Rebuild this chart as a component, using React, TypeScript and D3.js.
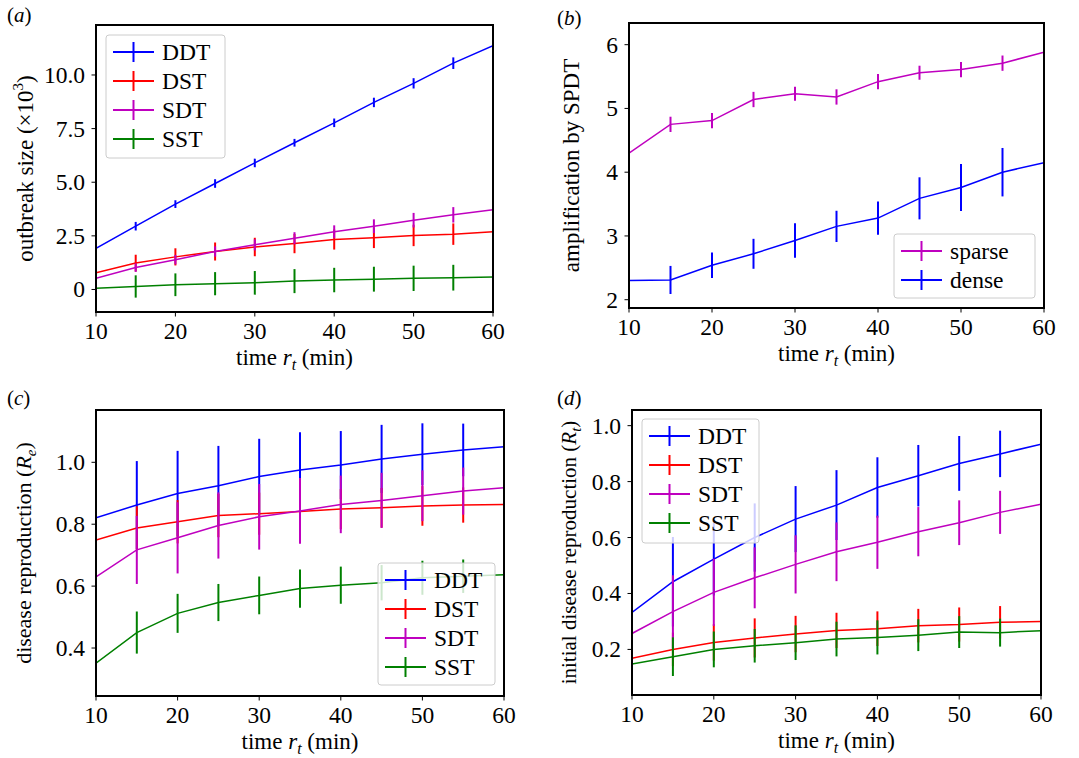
import React from "react"
import * as d3 from "d3"

const times = [10, 15, 20, 25, 30, 35, 40, 45, 50, 55, 60]
const xTicks = [10, 20, 30, 40, 50, 60]

// (a) outbreak size (x10^3)
const aDDT = [1.92, 2.95, 3.98, 4.94, 5.9, 6.84, 7.77, 8.72, 9.61, 10.55, 11.37]
const aDDTerr = [0, 0.2, 0.18, 0.2, 0.2, 0.18, 0.2, 0.22, 0.24, 0.27, 0]
const aDST = [0.78, 1.23, 1.52, 1.77, 1.98, 2.14, 2.33, 2.41, 2.52, 2.58, 2.69]
const aDSTerr = [0, 0.39, 0.4, 0.42, 0.43, 0.45, 0.47, 0.48, 0.5, 0.5, 0]
const aSDT = [0.52, 1.02, 1.39, 1.77, 2.08, 2.39, 2.69, 2.95, 3.23, 3.48, 3.72]
const aSDTerr = [0, 0.2, 0.22, 0.24, 0.26, 0.28, 0.3, 0.32, 0.34, 0.36, 0]
const aSST = [0.06, 0.14, 0.22, 0.27, 0.31, 0.39, 0.44, 0.48, 0.52, 0.55, 0.58]
const aSSTerr = [0, 0.52, 0.53, 0.54, 0.55, 0.56, 0.57, 0.58, 0.59, 0.6, 0]
const aTicks = [0, 2.5, 5, 7.5, 10]
const aTickLabels = ["0", "2.5", "5.0", "7.5", "10.0"]

// (b) amplification by SPDT
const bSparse = [4.3, 4.75, 4.81, 5.14, 5.23, 5.18, 5.42, 5.56, 5.61, 5.71, 5.88]
const bSparseErr = [0, 0.12, 0.12, 0.12, 0.11, 0.12, 0.12, 0.11, 0.12, 0.12, 0]
const bDense = [2.3, 2.31, 2.54, 2.72, 2.93, 3.15, 3.28, 3.59, 3.76, 4.0, 4.15]
const bDenseErr = [0, 0.22, 0.2, 0.235, 0.27, 0.245, 0.26, 0.33, 0.37, 0.38, 0]
const bTicks = [2, 3, 4, 5, 6]
const bTickLabels = ["2", "3", "4", "5", "6"]

// (c) disease reproduction Re
const cDDT = [0.821, 0.862, 0.899, 0.924, 0.954, 0.975, 0.991, 1.011, 1.026, 1.04, 1.05]
const cDDTerr = [0, 0.142, 0.138, 0.129, 0.122, 0.122, 0.11, 0.11, 0.1, 0.085, 0]
const cDST = [0.749, 0.788, 0.808, 0.828, 0.834, 0.841, 0.849, 0.853, 0.859, 0.862, 0.864]
const cDSTerr = [0, 0.07, 0.07, 0.07, 0.068, 0.066, 0.065, 0.064, 0.064, 0.057, 0]
const cSDT = [0.63, 0.717, 0.756, 0.796, 0.824, 0.843, 0.864, 0.877, 0.892, 0.907, 0.918]
const cSDTerr = [0, 0.11, 0.115, 0.107, 0.106, 0.106, 0.093, 0.089, 0.082, 0.076, 0]
const cSST = [0.351, 0.45, 0.512, 0.547, 0.57, 0.592, 0.603, 0.611, 0.627, 0.632, 0.637]
const cSSTerr = [0, 0.068, 0.063, 0.06, 0.061, 0.062, 0.06, 0.057, 0.055, 0.054, 0]
const cTicks = [0.4, 0.6, 0.8, 1.0]
const cTickLabels = ["0.4", "0.6", "0.8", "1.0"]

// (d) initial disease reproduction Rt
const dDDT = [0.332, 0.442, 0.523, 0.6, 0.666, 0.716, 0.779, 0.821, 0.865, 0.899, 0.934]
const dDDTerr = [0, 0.16, 0.13, 0.122, 0.118, 0.125, 0.108, 0.11, 0.098, 0.083, 0]
const dDST = [0.168, 0.2, 0.225, 0.241, 0.255, 0.268, 0.274, 0.285, 0.289, 0.297, 0.3]
const dDSTerr = [0, 0.06, 0.065, 0.07, 0.065, 0.063, 0.062, 0.06, 0.061, 0.058, 0]
const dSDT = [0.257, 0.335, 0.404, 0.456, 0.504, 0.549, 0.583, 0.621, 0.653, 0.69, 0.719]
const dSDTerr = [0, 0.13, 0.12, 0.109, 0.104, 0.105, 0.095, 0.088, 0.08, 0.077, 0]
const dSST = [0.148, 0.174, 0.2, 0.213, 0.224, 0.237, 0.243, 0.251, 0.262, 0.26, 0.267]
const dSSTerr = [0, 0.069, 0.064, 0.06, 0.062, 0.062, 0.061, 0.057, 0.057, 0.05, 0]
const dTicks = [0.2, 0.4, 0.6, 0.8, 1.0]
const dTickLabels = ["0.2", "0.4", "0.6", "0.8", "1.0"]

const BLUE = "#0000ff"
const RED = "#ff0000"
const MAGENTA = "#bf00bf"
const GREEN = "#008000"
const FONT = "Liberation Serif"
const FS = 23.5

type Series = { name: string, color: string, values: number[], err: number[] }

type PanelProps = {
    left: number, top: number, width: number, height: number,
    yDomain: [number, number], yTicks: number[], yTickLabels: string[],
    series: Series[], legendOrder: Series[],
    legend: { x: number, y: number, w: number, h: number },
    letter: string, letterPos: [number, number],
    yLabel: React.ReactNode, yLabelX: number, yLabelSize: number,
}

const Panel = (p: PanelProps) => {
    const x = d3.scaleLinear().domain([10, 60]).range([p.left, p.left + p.width])
    const y = d3.scaleLinear().domain(p.yDomain).range([p.top + p.height, p.top])
    const line = d3.line<number>().x((d, i) => x(times[i])).y(d => y(d))
    const bottom = p.top + p.height

    return (
        <g>
            <defs>
                <clipPath id={"clip" + p.letter}>
                    <rect x={p.left} y={p.top} width={p.width} height={p.height} />
                </clipPath>
            </defs>
            <g clipPath={`url(#clip${p.letter})`}>
                {p.series.map(s => (
                    <g key={s.name}>
                        <path d={line(s.values) || ""} fill="none" stroke={s.color} strokeWidth={1.5} />
                        {s.values.map((v, i) => s.err[i] > 0 ? (
                            <line key={i} x1={x(times[i])} x2={x(times[i])}
                                y1={y(v - s.err[i])} y2={y(v + s.err[i])}
                                stroke={s.color} strokeWidth={2} />
                        ) : null)}
                    </g>
                ))}
            </g>
            {/* legend */}
            <g>
                <rect x={p.legend.x} y={p.legend.y} width={p.legend.w} height={p.legend.h} rx={3}
                    fill="white" fillOpacity={0.8} stroke="#cccccc" strokeWidth={1} />
                {p.legendOrder.map((s, i) => {
                    const cy = p.legend.y + 17 + i * 29
                    const lx = p.legend.x + 7
                    return (
                        <g key={s.name}>
                            <line x1={lx} x2={lx + 41} y1={cy} y2={cy} stroke={s.color} strokeWidth={2} />
                            <line x1={lx + 20.5} x2={lx + 20.5} y1={cy - 10} y2={cy + 10} stroke={s.color} strokeWidth={2} />
                            <text x={p.legend.x + 56} y={cy + 8} fontSize={FS} fontFamily={FONT}>{s.name}</text>
                        </g>
                    )
                })}
            </g>
            {/* axes frame */}
            <rect x={p.left} y={p.top} width={p.width} height={p.height} fill="none" stroke="black" strokeWidth={2} />
            {xTicks.map(t => (
                <g key={t}>
                    <line x1={x(t)} x2={x(t)} y1={bottom + 1} y2={bottom + 4.5} stroke="black" strokeWidth={1} />
                    <text x={x(t)} y={bottom + 27} textAnchor="middle" fontSize={FS} fontFamily={FONT}>{t}</text>
                </g>
            ))}
            {p.yTicks.map((t, i) => (
                <g key={t}>
                    <line x1={p.left - 1} x2={p.left - 4.5} y1={y(t)} y2={y(t)} stroke="black" strokeWidth={1} />
                    <text x={p.left - 11} y={y(t) + 8} textAnchor="end" fontSize={FS} fontFamily={FONT}>{p.yTickLabels[i]}</text>
                </g>
            ))}
            <text x={p.left + p.width / 2} y={bottom + 53} textAnchor="middle" fontSize={23} fontFamily={FONT}>
                time <tspan fontStyle="italic">r</tspan><tspan fontStyle="italic" fontSize={16} dy={5}>t</tspan><tspan dy={-5}> (min)</tspan>
            </text>
            <text transform={`translate(${p.yLabelX},${p.top + p.height / 2}) rotate(-90)`} textAnchor="middle"
                fontSize={p.yLabelSize} fontFamily={FONT}>{p.yLabel}</text>
            <text x={p.letterPos[0]} y={p.letterPos[1]} fontSize={21} fontFamily={FONT}>
                (<tspan fontStyle="italic">{p.letter}</tspan>)
            </text>
        </g>
    )
}

const App = () => {
    const aSeries: Series[] = [
        { name: "DDT", color: BLUE, values: aDDT, err: aDDTerr },
        { name: "DST", color: RED, values: aDST, err: aDSTerr },
        { name: "SDT", color: MAGENTA, values: aSDT, err: aSDTerr },
        { name: "SST", color: GREEN, values: aSST, err: aSSTerr },
    ]
    const bSeries: Series[] = [
        { name: "sparse", color: MAGENTA, values: bSparse, err: bSparseErr },
        { name: "dense", color: BLUE, values: bDense, err: bDenseErr },
    ]
    const cSeries: Series[] = [
        { name: "DDT", color: BLUE, values: cDDT, err: cDDTerr },
        { name: "DST", color: RED, values: cDST, err: cDSTerr },
        { name: "SDT", color: MAGENTA, values: cSDT, err: cSDTerr },
        { name: "SST", color: GREEN, values: cSST, err: cSSTerr },
    ]
    const dSeries: Series[] = [
        { name: "DDT", color: BLUE, values: dDDT, err: dDDTerr },
        { name: "DST", color: RED, values: dDST, err: dDSTerr },
        { name: "SDT", color: MAGENTA, values: dSDT, err: dSDTerr },
        { name: "SST", color: GREEN, values: dSST, err: dSSTerr },
    ]

    return (
        <svg width={1079} height={758} style={{ position: "absolute", left: 0, top: 0, background: "white" }}>
            <Panel left={96} top={25} width={397} height={287} yDomain={[-1.05, 12.33]}
                yTicks={aTicks} yTickLabels={aTickLabels} series={aSeries} legendOrder={aSeries}
                legend={{ x: 106, y: 35, w: 119, h: 123 }} letter="a" letterPos={[7, 22]}
                yLabelX={33} yLabelSize={23}
                yLabel={<>outbreak size (×10<tspan fontSize={15} dy={-10}>3</tspan><tspan dy={10}>)</tspan></>} />
            <Panel left={629} top={23} width={415} height={285} yDomain={[1.87, 6.34]}
                yTicks={bTicks} yTickLabels={bTickLabels} series={bSeries} legendOrder={bSeries}
                legend={{ x: 894, y: 234, w: 141, h: 64 }} letter="b" letterPos={[557, 25]}
                yLabelX={579} yLabelSize={23} yLabel={<>amplification by SPDT</>} />
            <Panel left={96} top={410} width={408} height={286} yDomain={[0.245, 1.169]}
                yTicks={cTicks} yTickLabels={cTickLabels} series={cSeries} legendOrder={cSeries}
                legend={{ x: 378, y: 563, w: 117, h: 122 }} letter="c" letterPos={[7, 405]}
                yLabelX={31} yLabelSize={22}
                yLabel={<>disease reproduction (<tspan fontStyle="italic">R</tspan><tspan fontStyle="italic" fontSize={15} dy={5}>e</tspan><tspan dy={-5}>)</tspan></>} />
            <Panel left={632} top={410} width={409} height={285} yDomain={[0.037, 1.056]}
                yTicks={dTicks} yTickLabels={dTickLabels} series={dSeries} legendOrder={dSeries}
                legend={{ x: 642, y: 419, w: 117, h: 124 }} letter="d" letterPos={[557, 405]}
                yLabelX={576} yLabelSize={21}
                yLabel={<>initial disease reproduction (<tspan fontStyle="italic">R</tspan><tspan fontStyle="italic" fontSize={15} dy={5}>t</tspan><tspan dy={-5}>)</tspan></>} />
        </svg>
    )
}

export default App
